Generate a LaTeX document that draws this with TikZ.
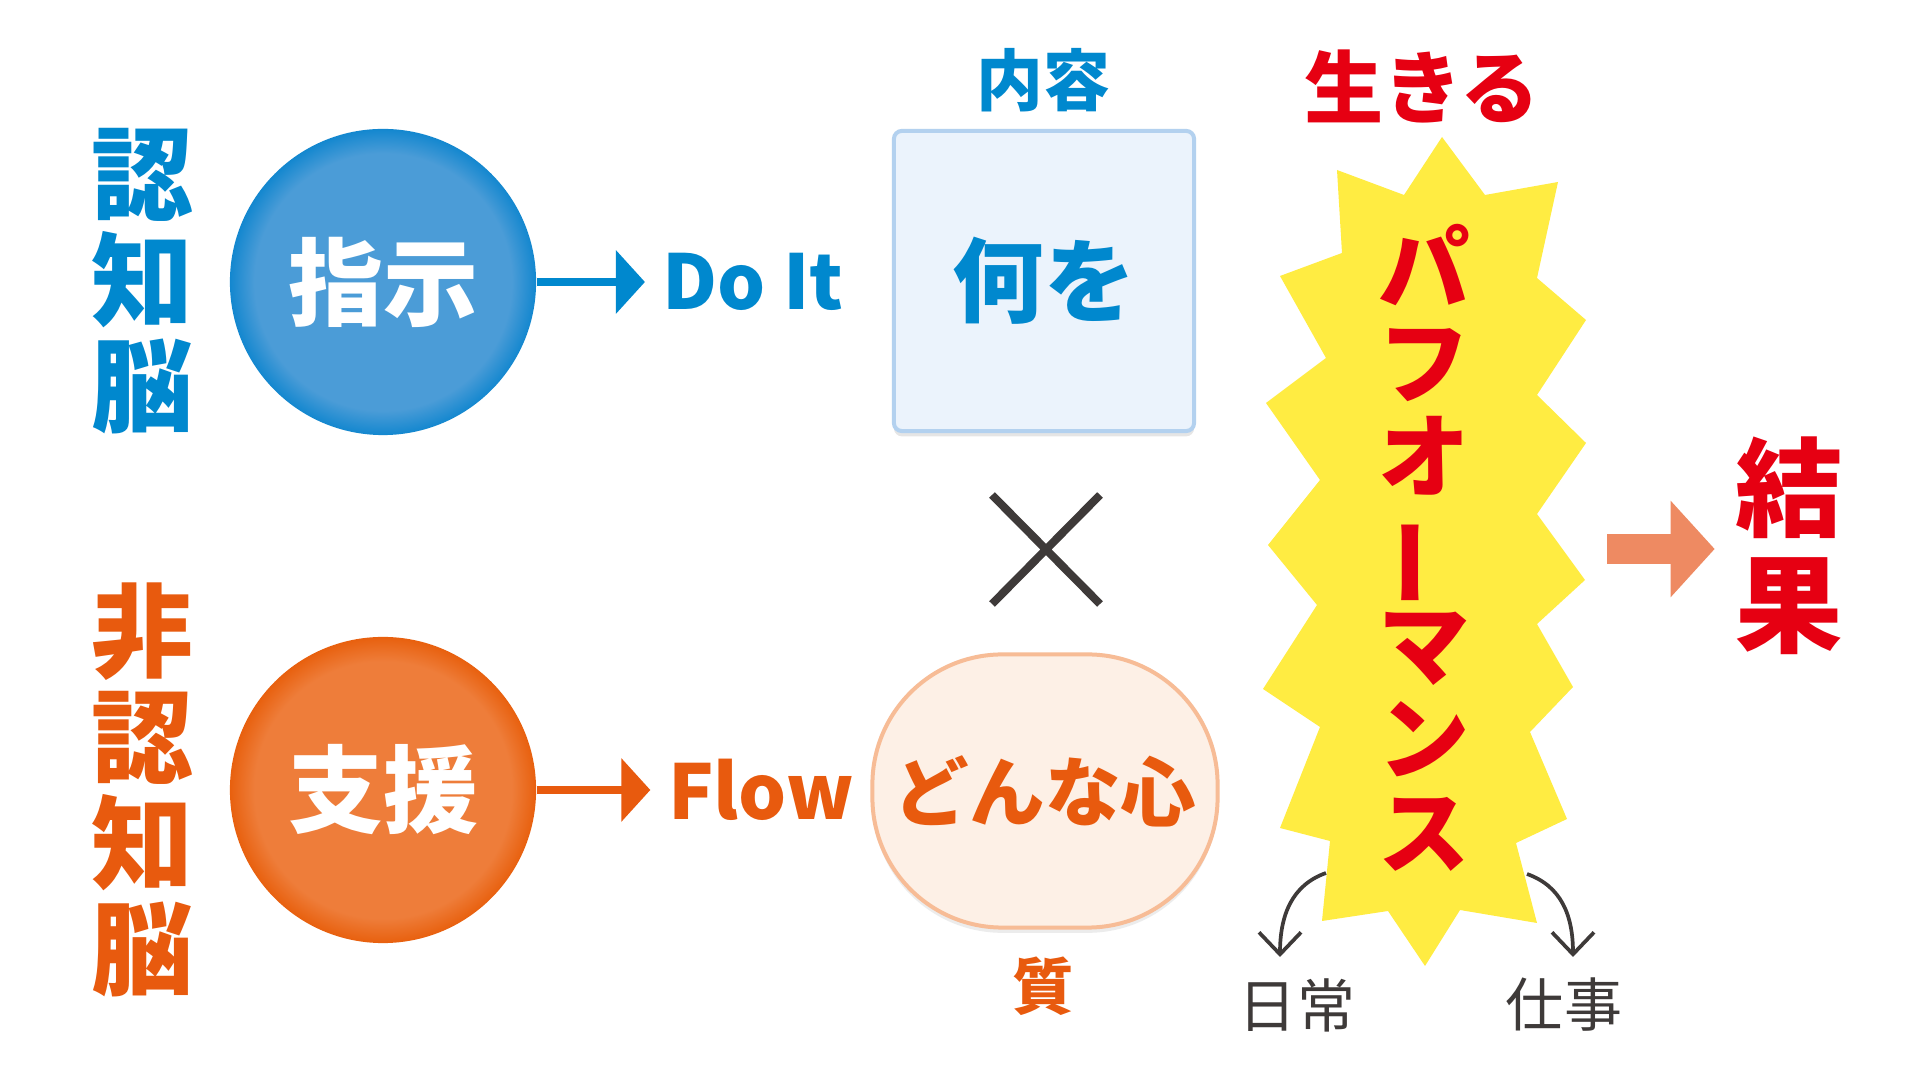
\documentclass[tikz,border=0pt]{standalone}
\usepackage{fontspec}
\setmainfont{Noto Sans CJK JP}
\usepackage{graphicx}
\usetikzlibrary{arrows.meta,shadows}

\definecolor{brainblue}{HTML}{0088CE}
\definecolor{brainorange}{HTML}{E85A0E}
\definecolor{perfred}{HTML}{E60012}
\definecolor{burstyellow}{HTML}{FFEC42}
\definecolor{resultsalmon}{HTML}{EE8A62}
\definecolor{crossgray}{HTML}{3E3A39}
\definecolor{discblueinner}{HTML}{4B9CD7}
\definecolor{discblueouter}{HTML}{1387CF}
\definecolor{discorangeinner}{HTML}{EE7D3A}
\definecolor{discorangeouter}{HTML}{E8600E}
\definecolor{boxblue}{HTML}{EBF3FC}
\definecolor{boxblueedge}{HTML}{B3D1EF}
\definecolor{boxorange}{HTML}{FDF0E6}
\definecolor{boxorangeedge}{HTML}{F7BC96}

\pgfdeclareradialshading{discblue}{\pgfpoint{0bp}{0bp}}{color(0bp)=(discblueinner); color(21bp)=(discblueinner); color(25bp)=(discblueouter); color(50bp)=(discblueouter)}
\pgfdeclareradialshading{discorange}{\pgfpoint{0bp}{0bp}}{color(0bp)=(discorangeinner); color(21bp)=(discorangeinner); color(25bp)=(discorangeouter); color(50bp)=(discorangeouter)}

\tikzset{
  brainlabel/.style={align=center, inner sep=0pt, font=\bfseries\fontsize{29}{30.2}\selectfont},
  disc/.style={circle, minimum size=3.06cm, inner sep=0pt, text=white, font=\bfseries\fontsize{27}{30}\selectfont},
  modelabel/.style={inner sep=0.17cm, font=\bfseries\fontsize{21.5}{24}\selectfont},
  flowarrow/.style={-{Triangle[length=0.29cm,width=0.62cm]}, line width=0.08cm},
  contentbox/.style={rounded corners=0.08cm, fill=boxblue, draw=boxblueedge, line width=0.04cm,
    drop shadow={shadow xshift=0pt, shadow yshift=-1.5pt, opacity=.2}},
  heartbox/.style={rounded corners=1.3cm, fill=boxorange, draw=boxorangeedge, line width=0.04cm,
    drop shadow={shadow xshift=0pt, shadow yshift=-1.5pt, opacity=.15}},
  smalltag/.style={inner sep=0pt, font=\bfseries\fontsize{19}{22}\selectfont},
  scenetag/.style={inner sep=0pt, text=crossgray, font=\fontsize{16.5}{19}\selectfont},
  redlabel/.style={inner sep=0pt, text=perfred, align=center},
  branch/.style={-{Straight Barb[length=0.22cm,width=0.42cm]}, line width=0.037cm, crossgray}
}

\begin{document}
\begin{tikzpicture}[x=0.01cm, y=-0.01cm]
  \useasboundingbox (0,0) rectangle (1920,1080);
  \fill[white] (0,0) rectangle (1920,1080);

  % brains
  \node[brainlabel, text=brainblue] (ninchi) at (142,281) {認\\知\\脳};
  \node[brainlabel, text=brainorange] (hininchi) at (142,790) {非\\認\\知\\脳};

  % discs
  \node[disc, shading=discblue] (shiji) at (383,282) {指示};
  \node[disc, shading=discorange] (shien) at (383,790) {支援};

  \node[modelabel, text=brainblue] (doit) at (753,282) {Do It};
  \node[modelabel, text=brainorange] (flow) at (761,790) {Flow};

  \draw[flowarrow, brainblue] (shiji) -- (doit);
  \draw[flowarrow, brainorange] (shien) -- (flow);

  % what / how
  \node[smalltag, text=brainblue] (naiyo) at (1043,80) {内容};
  \node[contentbox, minimum width=3.0cm, minimum height=3.0cm, text=brainblue,
    font=\bfseries\fontsize{26}{30}\selectfont] (naniwo) at (1044,281) {何を};

  \draw[crossgray, line width=0.08cm] (992,495) -- (1100,604) (1100,495) -- (992,604);

  \node[heartbox, minimum width=3.45cm, minimum height=2.73cm, text=brainorange,
    font=\bfseries\fontsize{21.5}{24}\selectfont] (donna) at (1045,791) {どんな心};
  \node[smalltag, text=brainorange, font=\bfseries\fontsize{17.5}{20}\selectfont] (shitsu) at (1043,986) {質};

  % burst
  \fill[burstyellow] (1442,137) -- (1485,195) -- (1558,182) -- (1537,278) -- (1586,320)
    -- (1537,395) -- (1586,443) -- (1537,514) -- (1585,580) -- (1537,624) -- (1573,687)
    -- (1530,732) -- (1567,819) -- (1516,843) -- (1537,923) -- (1460,910) -- (1425,966)
    -- (1388,911) -- (1322,921) -- (1330,841) -- (1280,828) -- (1320,727) -- (1263,689)
    -- (1317,605) -- (1268,545) -- (1320,480) -- (1266,403) -- (1326,358) -- (1280,276)
    -- (1342,253) -- (1337,170) -- (1404,195) -- cycle;

  \node[redlabel, font=\bfseries\fontsize{22.5}{26}\selectfont] (ikiru) at (1422,86) {生きる};
  \node[redlabel, font=\bfseries\fontsize{26}{26.7}\selectfont] (pafo) at (1424,548)
    {パ\\フ\\オ\\\rotatebox[origin=c]{90}{ー}\\マ\\ン\\ス};
  \node[redlabel, font=\bfseries\fontsize{30.5}{33}\selectfont] (kekka) at (1789,546) {結\\果};

  \coordinate (burstR) at (1607,549);
  \draw[resultsalmon, line width=0.3cm, -{Triangle[length=0.44cm,width=0.94cm]}, shorten >=0.2cm]
    (burstR) -- (kekka.west |- burstR);

  % everyday / work
  \node[scenetag] (nichijo) at (1297,1005) {日常};
  \node[scenetag] (shigoto) at (1564,1005) {仕事};
  \coordinate (burstBL) at (1326,873);
  \coordinate (burstBR) at (1527,874);
  \coordinate (nichijoTop) at (1280,957);
  \coordinate (shigotoTop) at (1573,957);
  \draw[branch] (burstBL) .. controls (1292,885) and (1280,915) .. (nichijoTop);
  \draw[branch] (burstBR) .. controls (1561,886) and (1573,915) .. (shigotoTop);
\end{tikzpicture}
\end{document}
